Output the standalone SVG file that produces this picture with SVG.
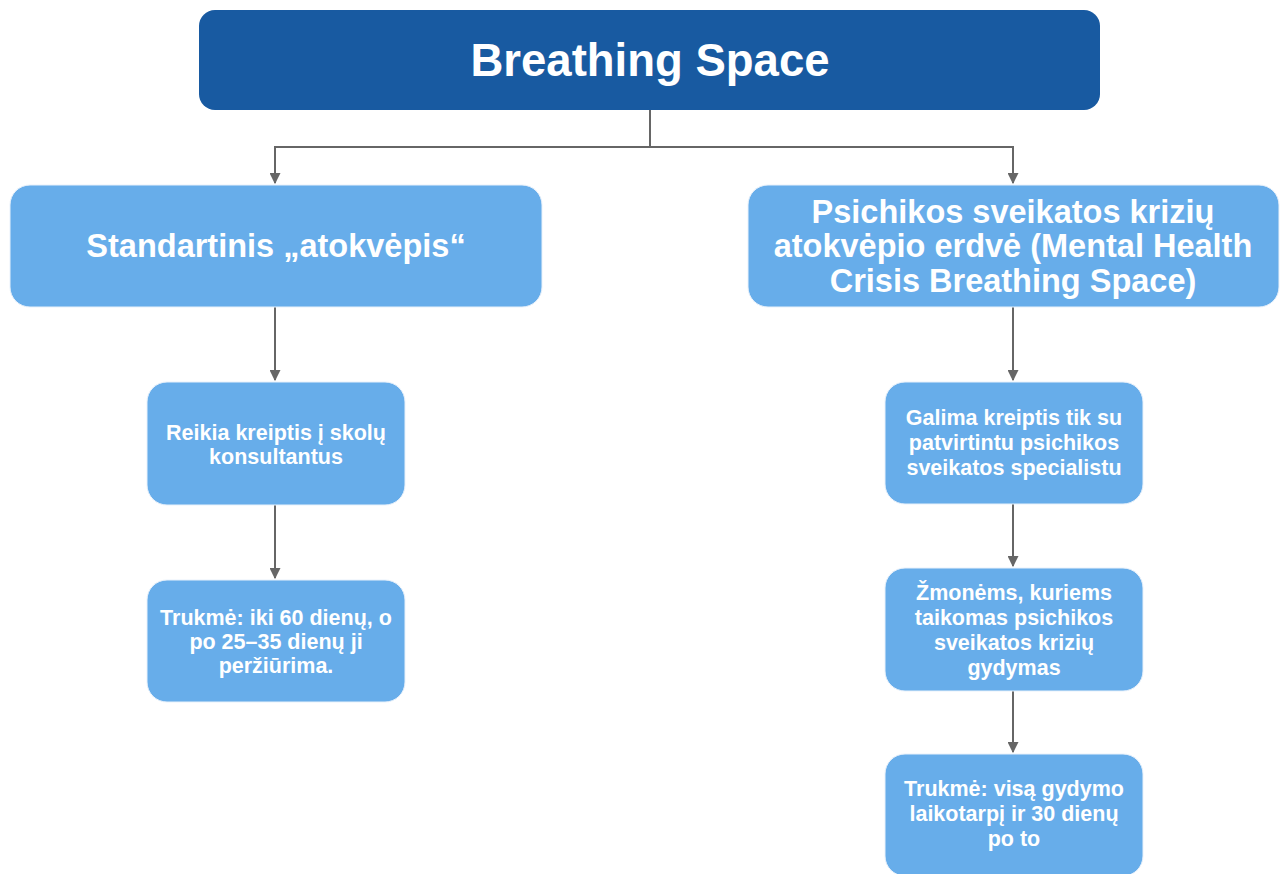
<svg xmlns="http://www.w3.org/2000/svg" width="1280" height="874" viewBox="0 0 1280 874">
<style>
.t{font-family:"Liberation Sans",Arial,sans-serif;font-weight:bold;fill:#fff;text-anchor:middle}
.s{font-size:21.5px}
.lb{fill:#67adea;stroke:#e8f1fb;stroke-width:1}
.c{fill:none;stroke:#666;stroke-width:2}
</style>
<defs>
<marker id="ah" viewBox="0 0 10 10" refX="9" refY="5" markerWidth="5.5" markerHeight="5.5" orient="auto" markerUnits="strokeWidth">
<path d="M0,0 L10,5 L0,10 z" fill="#666"/>
</marker>
</defs>
<rect width="1280" height="874" fill="#fff"/>
<g id="connectors">
<path class="c" d="M650,110 V147 H275 V183" marker-end="url(#ah)"/>
<path class="c" d="M650,147 H1013 V183" marker-end="url(#ah)"/>
<path class="c" d="M275,307 V380" marker-end="url(#ah)"/>
<path class="c" d="M275,505 V578" marker-end="url(#ah)"/>
<path class="c" d="M1013,307 V380" marker-end="url(#ah)"/>
<path class="c" d="M1013,504 V566" marker-end="url(#ah)"/>
<path class="c" d="M1013,691 V752" marker-end="url(#ah)"/>
</g>
<g id="root">
<rect x="199" y="10" width="901" height="100" rx="16" fill="#185aa1"/>
<text class="t" x="650" y="76" font-size="45.5">Breathing Space</text>
</g>
<g id="standard">
<rect class="lb" x="10" y="185" width="532" height="122" rx="20"/>
<text class="t" x="276" y="257" font-size="32.5">Standartinis „atokvėpis“</text>
</g>
<g id="mental">
<rect class="lb" x="748" y="185" width="531" height="122" rx="20"/>
<text class="t" font-size="32.5"><tspan x="1013" y="223">Psichikos sveikatos krizių</tspan><tspan x="1013" y="257">atokvėpio erdvė (Mental Health</tspan><tspan x="1013" y="292">Crisis Breathing Space)</tspan></text>
</g>
<g id="consult">
<rect class="lb" x="147" y="382" width="258" height="123" rx="20"/>
<text class="t s"><tspan x="276" y="440">Reikia kreiptis į skolų</tspan><tspan x="276" y="464">konsultantus</tspan></text>
</g>
<g id="duration60">
<rect class="lb" x="147" y="580" width="258" height="122" rx="20"/>
<text class="t s"><tspan x="276" y="625">Trukmė: iki 60 dienų, o</tspan><tspan x="276" y="649">po 25–35 dienų ji</tspan><tspan x="276" y="673">peržiūrima.</tspan></text>
</g>
<g id="specialist">
<rect class="lb" x="885" y="382" width="258" height="122" rx="20"/>
<text class="t s"><tspan x="1014" y="425">Galima kreiptis tik su</tspan><tspan x="1014" y="450">patvirtintu psichikos</tspan><tspan x="1014" y="475">sveikatos specialistu</tspan></text>
</g>
<g id="people">
<rect class="lb" x="885" y="568" width="258" height="123" rx="20"/>
<text class="t s"><tspan x="1014" y="600">Žmonėms, kuriems</tspan><tspan x="1014" y="625">taikomas psichikos</tspan><tspan x="1014" y="650">sveikatos krizių</tspan><tspan x="1014" y="675">gydymas</tspan></text>
</g>
<g id="durationTreatment">
<rect class="lb" x="885" y="754" width="258" height="122" rx="20"/>
<text class="t s"><tspan x="1014" y="796">Trukmė: visą gydymo</tspan><tspan x="1014" y="821">laikotarpį ir 30 dienų</tspan><tspan x="1014" y="846">po to</tspan></text>
</g>
</svg>
